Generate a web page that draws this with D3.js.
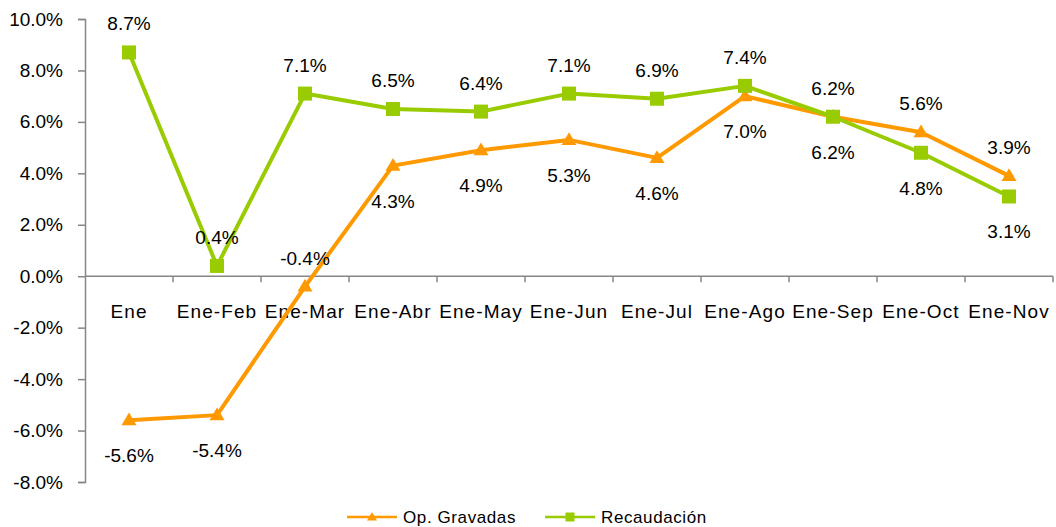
<!DOCTYPE html>
<html>
<head>
<meta charset="utf-8">
<script src="https://cdn.jsdelivr.net/npm/d3@7"></script>
<style>
  html, body { margin: 0; padding: 0; background: #fff; }
  svg { display: block; font-family: "Liberation Sans", Arial, sans-serif; }
</style>
</head>
<body>
<svg id="chart" width="1056" height="527"></svg>
<script>
// Cumulative year-over-year growth by period
const categories = ["Ene", "Ene-Feb", "Ene-Mar", "Ene-Abr", "Ene-May", "Ene-Jun",
                    "Ene-Jul", "Ene-Ago", "Ene-Sep", "Ene-Oct", "Ene-Nov"];
const opGravadas  = [-5.6, -5.4, -0.4, 4.3, 4.9, 5.3, 4.6, 7.0, 6.2, 5.6, 3.9];
const recaudacion = [8.7, 0.4, 7.1, 6.5, 6.4, 7.1, 6.9, 7.4, 6.2, 4.8, 3.1];
const yTicks = [-8, -6, -4, -2, 0, 2, 4, 6, 8, 10];

// Label side per point ("t" above, "b" below)
const opLabelSide  = ["b", "b", "t", "b", "b", "b", "b", "b", "b", "t", "t"];
const recLabelSide = ["t", "t", "t", "t", "t", "t", "t", "t", "t", "b", "b"];

const series = [
  { name: "Op. Gravadas", values: opGravadas, sides: opLabelSide, color: "#FF9900", marker: "triangle" },
  { name: "Recaudación", values: recaudacion, sides: recLabelSide, color: "#99CC00", marker: "square" }
];

const svg = d3.select("#chart");
const plotLeft = 85, plotRight = 1053, plotTop = 19, plotBottom = 482;

const x = d3.scaleBand().domain(categories).range([plotLeft, plotRight]);
const y = d3.scaleLinear().domain([-8, 10]).range([plotBottom, plotTop]);
const cx = d => x(d) + x.bandwidth() / 2;
const fmt = v => v.toFixed(1) + "%";
const axisColor = "#868686";
const fontSize = 19;

// Y axis
const yAxis = svg.append("g")
  .attr("transform", `translate(${plotLeft},0)`)
  .call(d3.axisLeft(y).tickValues(yTicks).tickFormat(fmt).tickSize(7).tickPadding(15));
yAxis.select(".domain").attr("stroke", axisColor).attr("stroke-width", 1.5);
yAxis.selectAll(".tick line").attr("stroke", axisColor).attr("stroke-width", 1.5);
yAxis.selectAll(".tick text")
  .attr("fill", "#000").attr("font-size", fontSize)
  .attr("font-family", "Liberation Sans, Arial, sans-serif");

// Category axis along the zero line, ticks between categories
const xAxisG = svg.append("g").attr("transform", `translate(0,${y(0)})`);
xAxisG.append("line")
  .attr("x1", plotLeft).attr("x2", plotRight).attr("y1", 0).attr("y2", 0)
  .attr("stroke", axisColor).attr("stroke-width", 1.5);
const boundaries = categories.map(c => x(c)).slice(1).concat([plotRight]);
xAxisG.selectAll("line.tk").data(boundaries).join("line").attr("class", "tk")
  .attr("x1", d => d).attr("x2", d => d).attr("y1", 0).attr("y2", 6)
  .attr("stroke", axisColor).attr("stroke-width", 1.5);
xAxisG.selectAll("text").data(categories).join("text")
  .attr("x", d => cx(d)).attr("y", 42)
  .attr("text-anchor", "middle").attr("font-size", fontSize).attr("letter-spacing", "1.1px")
  .attr("fill", "#000").text(d => d);

// Markers
function drawMarker(g, type, px, py, size, color) {
  if (type === "square") {
    g.append("rect").attr("x", px - size / 2).attr("y", py - size / 2)
      .attr("width", size).attr("height", size).attr("fill", color);
  } else {
    const h = size * 0.85;
    g.append("path")
      .attr("d", `M${px},${py - h * 0.6} L${px + size / 2},${py + h * 0.4} L${px - size / 2},${py + h * 0.4} Z`)
      .attr("fill", color);
  }
}

const line = d3.line().x((d, i) => cx(categories[i])).y(d => y(d));

series.forEach(s => {
  const g = svg.append("g");
  g.append("path").datum(s.values)
    .attr("d", line).attr("fill", "none")
    .attr("stroke", s.color).attr("stroke-width", 4).attr("stroke-linejoin", "round");
  s.values.forEach((v, i) => drawMarker(g, s.marker, cx(categories[i]), y(v), s.marker === "square" ? 14 : 15, s.color));
});

// Data labels
series.forEach(s => {
  svg.append("g").selectAll("text").data(s.values).join("text")
    .attr("x", (d, i) => cx(categories[i]))
    .attr("y", (d, i) => s.sides[i] === "t" ? y(d) - 22 : y(d) + 42)
    .attr("text-anchor", "middle").attr("font-size", fontSize)
    .attr("fill", "#000").text(d => fmt(d));
});

// Legend
const legend = svg.append("g");
const legendItems = [
  { s: series[0], x0: 347 },
  { s: series[1], x0: 545 }
];
legendItems.forEach(({ s, x0 }) => {
  legend.append("line").attr("x1", x0).attr("x2", x0 + 50).attr("y1", 517).attr("y2", 517)
    .attr("stroke", s.color).attr("stroke-width", 2.5);
  drawMarker(legend, s.marker, x0 + 25, 517, s.marker === "square" ? 9 : 10, s.color);
  legend.append("text").attr("x", x0 + 56).attr("y", 523)
    .attr("font-size", 17).attr("letter-spacing", "0.6px").attr("fill", "#000").text(s.name);
});
</script>
</body>
</html>
